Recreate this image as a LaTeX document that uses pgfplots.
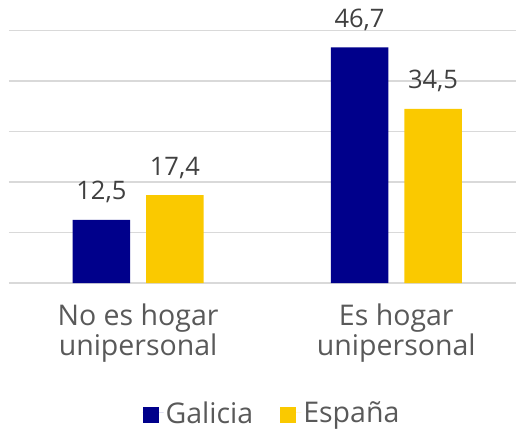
\documentclass[border=0pt]{standalone}
\usepackage{pgfplots}
\pgfplotsset{compat=1.18}
\usepackage{fontspec}
\setmainfont{Open Sans}
\definecolor{gal}{RGB}{0,0,139}
\definecolor{esp}{RGB}{250,201,0}
\definecolor{gridc}{RGB}{217,217,217}
\definecolor{txt}{RGB}{64,64,64}
\definecolor{legtxt}{RGB}{89,89,89}
\begin{document}
\begin{tikzpicture}[x=1pt,y=1pt]
\useasboundingbox (0,0) rectangle (516,429);
\begin{axis}[
  at={(9pt,146pt)}, anchor=south west,
  scale only axis, width=507pt, height=252.3pt,
  ymin=0, ymax=50, xmin=-0.5, xmax=1.4636,
  ytick={0,10,20,30,40,50}, yticklabels={},
  ymajorgrids, major grid style={draw=gridc, line width=1.5pt},
  axis line style={draw=none}, tick style={draw=none},
  xtick={0,1},
  xticklabels={{No es hogar\\unipersonal},{Es hogar\\unipersonal}},
  xticklabel style={align=center, font=\fontsize{28.5}{30.5}\selectfont, text=legtxt, yshift=-13pt},
  ybar=16pt, bar width=57.5pt,
  clip=false,
  nodes near coords,
  every node near coord/.append style={font=\fontsize{25.5}{25.5}\selectfont, text=txt, anchor=base, inner sep=0pt, yshift=20pt},
  /pgf/number format/assume math mode=true,
  /pgf/number format/use comma,
  /pgf/number format/fixed,
  /pgf/number format/fixed zerofill,
  /pgf/number format/precision=1,
  legend style={at={(0.5187,-0.515)}, anchor=center, draw=none, fill=none, inner sep=0pt,
    legend columns=2, font=\fontsize{28.5}{30.5}\selectfont, text=legtxt,
    /tikz/every even column/.append style={column sep=25pt}},
  legend image code/.code={\fill[#1,draw=none] (0pt,-10pt) rectangle (16pt,6pt);
    \path (0pt,0pt) -- (21pt,0pt);},
]
\addplot[fill=gal, draw=none] coordinates {(0,12.5) (1,46.7)};
\addplot[fill=esp, draw=none] coordinates {(0,17.4) (1,34.5)};
\legend{Galicia, España}
\end{axis}
\end{tikzpicture}
\end{document}
